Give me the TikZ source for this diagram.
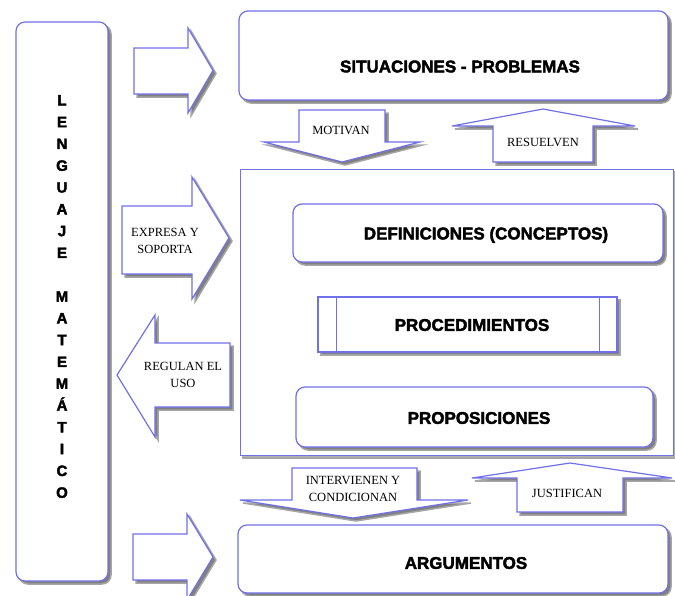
\documentclass[tikz,border=0pt]{standalone}
\usepackage{fontspec}
\setmainfont{Liberation Serif}
\setsansfont{Liberation Sans}
\newfontfamily\negrita[FakeBold=2.4]{Liberation Sans Bold}
\definecolor{azulborde}{RGB}{112,112,232}

\begin{document}
\begin{tikzpicture}[x=1pt, y=-1pt,
        sombra/.style={preaction={fill=black!50, draw=black!35, line width=1.5pt, transform canvas={shift={(3pt,-3pt)}}}},
        caja/.style={draw=azulborde, line width=1.2pt, fill=white, rounded corners=9pt, inner sep=0pt, sombra},
        flecha/.style={draw=azulborde, line width=1.2pt, fill=white, line join=miter, sombra},
        titulo/.style={font=\negrita\fontsize{17}{20}\selectfont, inner sep=0pt},
        rotulo/.style={font=\fontsize{12.5}{17}\selectfont, align=center, inner sep=0pt}]
        \useasboundingbox (0,0) rectangle (675,595);

        \node[caja, minimum width=92, minimum height=559] (lenguaje) at (62,301.5) {};
        \node[font=\negrita\fontsize{15}{21.8}\selectfont, align=center, inner sep=0pt] (lenguajeTxt) at (62,296.5)
            {L\\E\\N\\G\\U\\A\\J\\E\\[21.8pt]M\\A\\T\\E\\M\\Á\\T\\I\\C\\O};

        \node[caja, minimum width=429, minimum height=89] (situaciones) at (453.5,55.5) {};
        \node[titulo] (situacionesTxt) at (460,66.5) {SITUACIONES - PROBLEMAS};

        \node[caja, rounded corners=0pt, line width=0.9pt, minimum width=433, minimum height=286,
            preaction={fill=black!30, transform canvas={shift={(2pt,-2pt)}}}] (bloque) at (456.5,312) {};

        \node[caja, minimum width=370, minimum height=58] (definiciones) at (478,233) {};
        \node[titulo] (definicionesTxt) at (486,235) {DEFINICIONES (CONCEPTOS)};

        \node[caja, rounded corners=0pt, minimum width=299, minimum height=55] (procedimientos) at (467.5,324.5) {};
        \draw[azulborde, line width=1.2pt] ([xshift=19pt]procedimientos.north west) -- ([xshift=19pt]procedimientos.south west);
        \draw[azulborde, line width=1.2pt] ([xshift=-18pt]procedimientos.north east) -- ([xshift=-18pt]procedimientos.south east);
        \node[titulo] (procedimientosTxt) at (472,325) {PROCEDIMIENTOS};

        \node[caja, minimum width=357, minimum height=60] (proposiciones) at (474.5,417) {};
        \node[titulo] (proposicionesTxt) at (479,418) {PROPOSICIONES};

        \node[caja, minimum width=430, minimum height=68] (argumentos) at (453,559) {};
        \node[titulo] (argumentosTxt) at (466,563) {ARGUMENTOS};

        \draw[flecha] (134,48) -- (188,48) -- (188,28) -- (213,70.5) -- (188,113) -- (188,94) -- (134,94) -- cycle;
        \draw[flecha] (122,206) -- (192,206) -- (192,177) -- (229,238) -- (192,299) -- (192,274) -- (122,274) -- cycle;
        \node[rotulo] (expresa) at (165,241) {EXPRESA Y\\SOPORTA};
        \draw[flecha] (230,343) -- (155,343) -- (155,315) -- (117,375) -- (155,437) -- (155,407) -- (230,407) -- cycle;
        \node[rotulo] (regulan) at (183,375) {REGULAN EL\\USO};
        \draw[flecha] (133,534) -- (187,534) -- (187,514) -- (213,557) -- (187,600) -- (187,580) -- (133,580) -- cycle;

        \draw[flecha] (299,110) -- (385,110) -- (385,142) -- (420,142) -- (342,162) -- (264,142) -- (299,142) -- cycle;
        \node[rotulo] (motivan) at (341,130) {MOTIVAN};
        \draw[flecha] (493,162) -- (493,126) -- (452,126) -- (543,109) -- (635,126) -- (593,126) -- (593,162) -- cycle;
        \node[rotulo] (resuelven) at (543,142) {RESUELVEN};
        \draw[flecha] (292,468) -- (417,468) -- (417,500) -- (468,500) -- (353,518) -- (240,500) -- (292,500) -- cycle;
        \node[rotulo] (intervienen) at (353,489) {INTERVIENEN Y\\CONDICIONAN};
        \draw[flecha] (517,512) -- (517,478) -- (472,478) -- (570,463) -- (672,478) -- (623,478) -- (623,512) -- cycle;
        \node[rotulo] (justifican) at (567,493) {JUSTIFICAN};
    \end{tikzpicture}
\end{document}
